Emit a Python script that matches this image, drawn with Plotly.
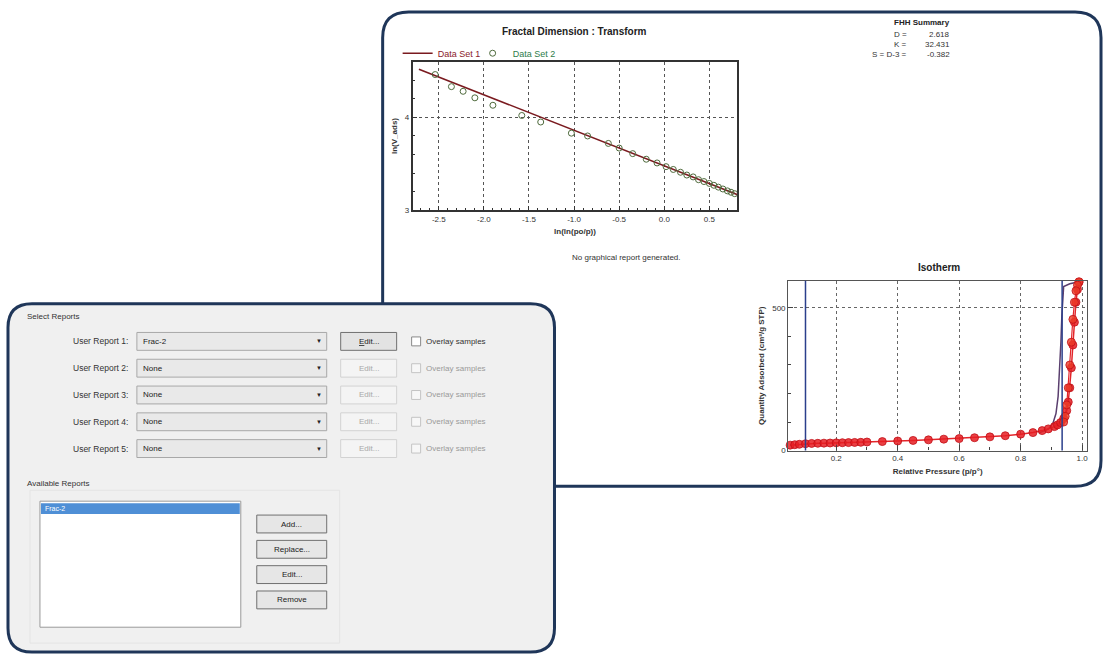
import plotly.graph_objects as go

W, H = 1105, 660

# ---------------- data ----------------
# Fractal (FHH) transform: x = ln(ln(p0/p)), y = ln(V_ads)
frac_x = [-2.73, -2.54, -2.36, -2.23, -2.10, -1.90, -1.58, -1.37, -1.03, -0.85, -0.62, -0.50,
          -0.35, -0.20, -0.08, 0.02, 0.10, 0.18, 0.25, 0.32, 0.38, 0.44, 0.50, 0.55, 0.60,
          0.65, 0.70, 0.74, 0.78]
frac_y = [4.61, 4.46, 4.33, 4.28, 4.21, 4.13, 4.02, 3.95, 3.83, 3.80, 3.72, 3.67,
          3.61, 3.55, 3.51, 3.47, 3.44, 3.41, 3.38, 3.36, 3.33, 3.31, 3.29, 3.27, 3.25,
          3.23, 3.21, 3.195, 3.18]
fit_x = [-2.72, 0.82]
fit_y = [4.518, 3.166]
frac_xticks = [-2.5, -2.0, -1.5, -1.0, -0.5, 0.0, 0.5]
frac_yticks = [3, 4]

summary_title = "FHH Summary"
summary_labels = ["D =", "K =", "S = D-3 ="]
summary_values = ["2.618", "32.431", "-0.382"]

# Isotherm
iso_ads_p = [0.05, 0.065, 0.08, 0.10, 0.12, 0.14, 0.16, 0.18, 0.20, 0.22, 0.24, 0.26, 0.28, 0.30,
             0.35, 0.40, 0.45, 0.50, 0.55, 0.60, 0.65, 0.70, 0.75, 0.80, 0.84, 0.87, 0.89, 0.91,
             0.92, 0.93, 0.94, 0.95, 0.955, 0.96, 0.965, 0.97, 0.975, 0.98, 0.985, 0.99]
iso_ads_v = [19, 20.5, 22, 24, 25, 25.5, 26, 26.5, 27, 27.5, 28, 28.5, 29, 30,
             31.5, 33.5, 35.5, 37.5, 40, 42, 45, 48, 52, 57.5, 63, 70, 76, 84,
             90, 98, 112, 140, 170, 220, 290, 370, 450, 520, 565, 590]
iso_des_p = [0.99, 0.985, 0.98, 0.975, 0.97, 0.965, 0.96, 0.955, 0.95, 0.945, 0.94]
iso_des_v = [592, 580, 560, 520, 460, 380, 300, 220, 160, 120, 100]
iso_line_p = [0.86, 0.89, 0.905, 0.915, 0.922, 0.927, 0.931, 0.934, 0.937, 0.94, 0.96, 0.99]
iso_line_v = [62, 75, 95, 130, 190, 280, 380, 470, 540, 575, 585, 592]
fractal_bounds = [0.1, 0.935]
iso_xticks = [0.2, 0.4, 0.6, 0.8, 1.0]
iso_yticks = [0, 500]

# Dialog content
report_labels = ["User Report 1:", "User Report 2:", "User Report 3:", "User Report 4:", "User Report 5:"]
report_values = ["Frac-2", "None", "None", "None", "None"]
available_reports = ["Frac-2"]
button_labels = ["Add...", "Replace...", "Edit...", "Remove"]

# ---------------- helpers ----------------
def px(x):
    return x / W


def py(y):
    return 1 - y / H


def rrect_path(x0, y0, x1, y1, r):
    def p(x, y):
        return f"{px(x):.5f},{py(y):.5f}"
    return (f"M {p(x0 + r, y0)} L {p(x1 - r, y0)} Q {p(x1, y0)} {p(x1, y0 + r)} "
            f"L {p(x1, y1 - r)} Q {p(x1, y1)} {p(x1 - r, y1)} "
            f"L {p(x0 + r, y1)} Q {p(x0, y1)} {p(x0, y1 - r)} "
            f"L {p(x0, y0 + r)} Q {p(x0, y0)} {p(x0 + r, y0)} Z")


shapes = []
annotations = []
FONT = "Liberation Sans, Arial, sans-serif"
NAVY = "#1f3659"


def rect(x0, y0, x1, y1, fill, line, lw=1, layer="below"):
    shapes.append(dict(type="rect", xref="paper", yref="paper",
                       x0=px(x0), x1=px(x1), y0=py(y1), y1=py(y0),
                       fillcolor=fill, line=dict(color=line, width=lw), layer=layer))


def text(t, x, y, size=8, color="#222", xanchor="left", bold=False):
    if bold:
        t = f"<b>{t}</b>"
    annotations.append(dict(text=t, x=px(x), y=py(y), xref="paper", yref="paper",
                            xanchor=xanchor, yanchor="middle", showarrow=False,
                            font=dict(family=FONT, size=size, color=color)))


# top panel
shapes.append(dict(type="path", path=rrect_path(383, 12, 1102, 490, 26), xref="paper", yref="paper",
                   fillcolor="white", line=dict(color=NAVY, width=3), layer="below"))

# ---------------- figure ----------------
fig = go.Figure()

fig.add_trace(go.Scatter(x=fit_x, y=fit_y, mode="lines", xaxis="x", yaxis="y",
                         line=dict(color="#7a1a1f", width=1.6),
                         name="<span style='color:#8b1a2a'>Data Set 1</span>"))
fig.add_trace(go.Scatter(x=frac_x, y=frac_y, mode="markers", xaxis="x", yaxis="y",
                         marker=dict(symbol="circle-open", size=6, color="#4f6b3d", line=dict(width=1)),
                         name="<span style='color:#2e7d4a'>Data Set 2</span>", cliponaxis=False))
# invisible spacer entry so the last legend label is not clipped
fig.add_trace(go.Scatter(x=[None], y=[None], mode="markers", xaxis="x", yaxis="y",
                         marker=dict(color="rgba(0,0,0,0)"), name=" ", hoverinfo="skip"))

fig.add_trace(go.Scatter(x=iso_line_p, y=iso_line_v, mode="lines", xaxis="x2", yaxis="y2",
                         line=dict(color="#5a3f6e", width=1.5), showlegend=False))
fig.add_trace(go.Scatter(x=iso_ads_p, y=iso_ads_v, mode="lines+markers", xaxis="x2", yaxis="y2",
                         line=dict(color="#e3262b", width=1.5),
                         marker=dict(symbol="circle", size=8, color="rgba(230,30,35,0.85)",
                                     line=dict(color="#c01018", width=0.8)),
                         showlegend=False, cliponaxis=False))
fig.add_trace(go.Scatter(x=iso_des_p, y=iso_des_v, mode="lines+markers", xaxis="x2", yaxis="y2",
                         line=dict(color="#e3262b", width=1.2),
                         marker=dict(symbol="circle", size=8, color="rgba(235,60,40,0.8)",
                                     line=dict(color="#c01018", width=0.8)),
                         showlegend=False, cliponaxis=False))

# fractal range bounds on the isotherm
for b in fractal_bounds:
    shapes.append(dict(type="line", xref="x2", yref="y2 domain", x0=b, x1=b, y0=0, y1=1,
                       line=dict(color="#2b3f8c", width=1.5), layer="above"))

# text in top panel
text(summary_title, 923, 23, size=8, color="#222", xanchor="center", bold=True)
for i, (lab, val) in enumerate(zip(summary_labels, summary_values)):
    yy = 35 + i * 10
    text(lab, 910, yy, size=8, color="#333", xanchor="right")
    text(val, 953, yy, size=8, color="#333", xanchor="right")
text("No graphical report generated.", 627, 259, size=8, color="#333", xanchor="center")

# ---------------- dialog panel ----------------
shapes.append(dict(type="path", path=rrect_path(8, 306, 555, 657, 24), xref="paper", yref="paper",
                   fillcolor="#f0f0f0", line=dict(color=NAVY, width=3), layer="above"))
text("Select Reports", 25, 319, size=8, color="#333")
row_y = [344, 371, 398, 425, 452]
for i, (lab, val, yy) in enumerate(zip(report_labels, report_values, row_y)):
    enabled = i == 0
    text(lab, 130, yy, size=8.5, color="#333", xanchor="right")
    rect(137, yy - 9, 327, yy + 9, "#e9e9e9", "#a8a8a8", 1, layer="above")
    text(val, 141, yy, size=8, color="#222")
    text("▼", 319, yy, size=6, color="#222", xanchor="center")
    if enabled:
        rect(341, yy - 9, 397, yy + 9, "#e3e3e3", "#707070", 1, layer="above")
        text("<u>E</u>dit...", 369, yy, size=8, color="#222", xanchor="center")
        rect(412, yy - 4.5, 421, yy + 4.5, "#ffffff", "#8a8a8a", 1, layer="above")
        text("Overlay samples", 424, yy, size=8, color="#333")
    else:
        rect(341, yy - 9, 397, yy + 9, "#f4f4f4", "#d2d2d2", 1, layer="above")
        text("Edit...", 369, yy, size=8, color="#a8a8a8", xanchor="center")
        rect(412, yy - 4.5, 421, yy + 4.5, "#f7f7f7", "#c4c4c4", 1, layer="above")
        text("Overlay samples", 424, yy, size=8, color="#9a9a9a")

text("Available Reports", 25, 487, size=8, color="#333")
rect(30, 494, 340, 648, "rgba(0,0,0,0)", "#e4e4e4", 1, layer="above")
rect(40, 505, 241, 632, "#ffffff", "#9a9a9a", 1, layer="above")
for i, name in enumerate(available_reports):
    yy = 512.5 + i * 12
    rect(41, yy - 5.5, 240, yy + 5.5, "#4f8fd6", "#4f8fd6", 0, layer="above")
    text(name, 43, yy, size=7, color="#ffffff")
for i, lab in enumerate(button_labels):
    y0 = 519 + i * 25.5
    rect(257, y0, 327, y0 + 18, "#e6e6e6", "#707070", 1, layer="above")
    text(lab, 292, y0 + 9, size=8, color="#222", xanchor="center")

fig.update_layout(
    width=W, height=H, margin=dict(l=0, r=0, t=0, b=0),
    paper_bgcolor="white", plot_bgcolor="white",
    font=dict(family=FONT, size=8, color="#333"),
    showlegend=True,
    legend=dict(orientation="h", x=px(398), y=py(39), xanchor="left", yanchor="top",
                font=dict(size=9, family=FONT), bgcolor="rgba(0,0,0,0)", itemwidth=30,
                tracegroupgap=0, entrywidth=30, entrywidthmode="pixels"),
    xaxis=dict(domain=[px(413), px(738)], anchor="y", range=[-2.79, 0.81],
               tickvals=frac_xticks, ticktext=[f"{v:.1f}" for v in frac_xticks],
               ticks="inside", ticklen=5, tickcolor="#333",
               minor=dict(dtick=0.1, ticks="inside", ticklen=3, tickcolor="#333", showgrid=False),
               showgrid=True, gridcolor="#555", griddash="dot", gridwidth=1,
               showline=True, linecolor="#333", linewidth=1.5, mirror=True, zeroline=False,
               tickfont=dict(size=8, color="#333", family=FONT),
               title=dict(text="<b>ln(ln(po/p))</b>", font=dict(size=8, color="#333"), standoff=6)),
    yaxis=dict(domain=[py(212), py(62)], anchor="x", range=[3, 4.6],
               tickvals=frac_yticks, ticktext=[str(v) for v in frac_yticks],
               ticks="inside", ticklen=5, tickcolor="#333",
               minor=dict(dtick=0.2, ticks="inside", ticklen=3, tickcolor="#333", showgrid=False),
               showgrid=True, gridcolor="#555", griddash="dot", gridwidth=1,
               showline=True, linecolor="#333", linewidth=1.5, mirror=True, zeroline=False,
               tickfont=dict(size=8, color="#333", family=FONT),
               title=dict(text="<b>ln(V_ads)</b>", font=dict(size=8, color="#333"), standoff=6)),
    xaxis2=dict(domain=[px(789), px(1088)], anchor="y2", range=[0.044, 1.016],
                tickvals=iso_xticks, ticktext=[f"{v:.1f}" for v in iso_xticks],
                ticks="inside", ticklen=5, tickcolor="#444",
                minor=dict(dtick=0.1, ticks="inside", ticklen=3, tickcolor="#444", showgrid=False),
                showgrid=True, gridcolor="#666", griddash="dot", gridwidth=1,
                showline=True, linecolor="#555", linewidth=1.2, mirror=True, zeroline=False,
                tickfont=dict(size=8, color="#333", family=FONT),
                title=dict(text="<b>Relative Pressure (p/p°)</b>", font=dict(size=8, color="#333"), standoff=6)),
    yaxis2=dict(domain=[py(454), py(283)], anchor="x2", range=[0, 595],
                tickvals=iso_yticks, ticktext=[str(v) for v in iso_yticks],
                ticks="inside", ticklen=5, tickcolor="#444",
                minor=dict(dtick=100, ticks="inside", ticklen=3, tickcolor="#444", showgrid=False),
                showgrid=True, gridcolor="#666", griddash="dot", gridwidth=1,
                showline=True, linecolor="#555", linewidth=1.2, mirror=True, zeroline=False,
                tickfont=dict(size=8, color="#333", family=FONT),
                title=dict(text="<b>Quantity Adsorbed (cm³/g STP)</b>", font=dict(size=8, color="#333"), standoff=6)),
    shapes=shapes,
    annotations=annotations + [
        dict(text="<b>Fractal Dimension : Transform</b>", x=px(575), y=py(32), xref="paper", yref="paper",
             showarrow=False, xanchor="center", yanchor="middle", font=dict(size=10, color="#222", family=FONT)),
        dict(text="<b>Isotherm</b>", x=px(940), y=py(270), xref="paper", yref="paper",
             showarrow=False, xanchor="center", yanchor="middle", font=dict(size=10, color="#222", family=FONT)),
    ],
)

fig.write_html("out.html", config={"displayModeBar": False},
               post_script="document.body.style.margin='0';")
